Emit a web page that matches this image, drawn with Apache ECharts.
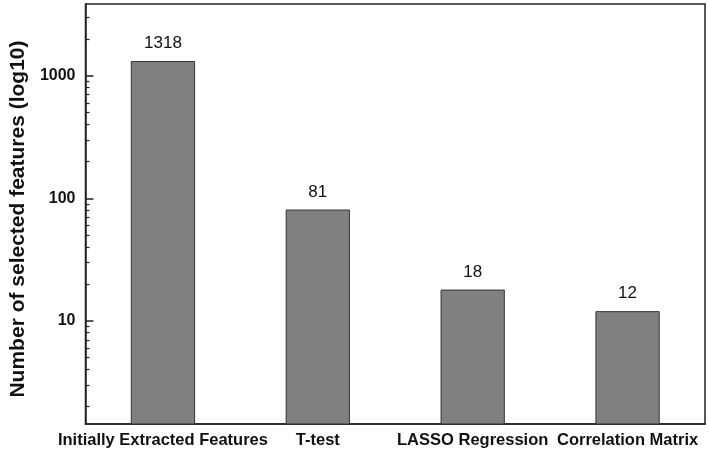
<!DOCTYPE html>
<html>
<head>
<meta charset="utf-8">
<script src="https://cdn.jsdelivr.net/npm/echarts@6/dist/echarts.min.js"></script>
<style>
  html, body { margin: 0; padding: 0; background: #fff; }
  #chart { width: 709px; height: 453px; }
</style>
</head>
<body>
<div id="chart"></div>
<script>
var categories = ['Initially Extracted Features', 'T-test', 'LASSO Regression', 'Correlation Matrix']
var featureCounts = [1318, 81, 18, 12]
var majorTicks = [10, 100, 1000]
var minorTicks = [2, 3, 4, 5, 6, 7, 8, 9, 20, 30, 40, 50, 60, 70, 80, 90,
  200, 300, 400, 500, 600, 700, 800, 900, 2000, 3000]

var font = 'Arial, "Liberation Sans", sans-serif'
var chart = echarts.init(document.getElementById('chart'))
chart.setOption({
  animation: false,
  backgroundColor: '#fff',
  grid: {
    left: 83,
    right: 4,
    top: 4,
    bottom: 29,
    show: true,
    borderColor: '#222',
    borderWidth: 1.5,
    containLabel: false
  },
  xAxis: {
    type: 'category',
    data: categories,
    axisLine: { lineStyle: { color: '#222', width: 1.5 } },
    axisTick: { show: false },
    axisLabel: {
      interval: 0,
      margin: 8,
      color: '#111',
      fontFamily: font,
      fontWeight: 'bold',
      fontSize: 16.5
    }
  },
  yAxis: [{
    type: 'log',
    min: 1.44,
    max: 3850,
    name: 'Number of selected features (log10)',
    nameLocation: 'middle',
    nameGap: 55,
    nameTextStyle: {
      color: '#111',
      fontFamily: font,
      fontWeight: 'bold',
      fontSize: 21,
      padding: [0, 10, 0, 0]
    },
    axisLine: { show: true, lineStyle: { color: '#222', width: 1.5 } },
    axisTick: {
      show: true,
      inside: true,
      length: 8,
      customValues: majorTicks,
      lineStyle: { color: '#222', width: 1.5 }
    },
    axisLabel: {
      customValues: majorTicks,
      formatter: function (v) { return String(v) },
      margin: 10,
      color: '#111',
      fontFamily: font,
      fontWeight: 'bold',
      fontSize: 16
    },
    splitLine: { show: false }
  }, {
    type: 'log',
    min: 1.44,
    max: 3850,
    position: 'left',
    axisLine: { show: false },
    axisTick: {
      show: true,
      inside: true,
      length: 4,
      customValues: minorTicks,
      lineStyle: { color: '#222', width: 1.2 }
    },
    axisLabel: { show: false },
    splitLine: { show: false }
  }],
  series: [{
    type: 'bar',
    data: featureCounts,
    barWidth: '41.5%',
    itemStyle: {
      color: '#808080',
      borderColor: '#333',
      borderWidth: 1
    },
    label: {
      show: true,
      position: 'top',
      distance: 9,
      color: '#111',
      fontFamily: font,
      fontSize: 17
    }
  }]
})
</script>
</body>
</html>
